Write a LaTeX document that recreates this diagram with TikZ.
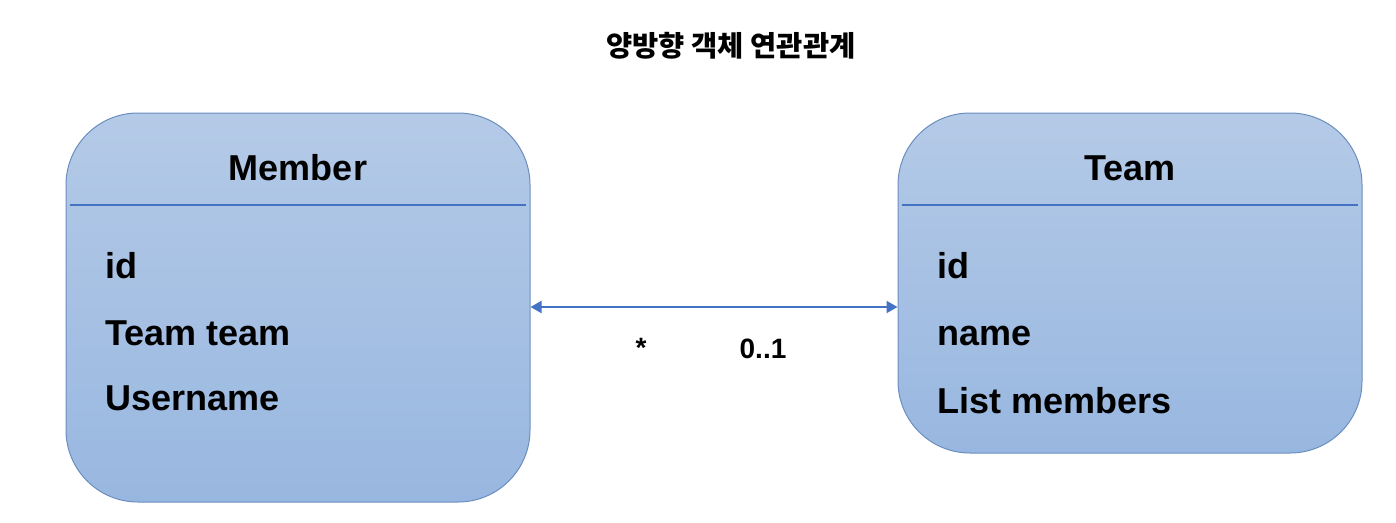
\documentclass[tikz,border=0pt]{standalone}
\usepackage{fontspec}
\setmainfont{Liberation Sans}
\newfontfamily\cjk{Noto Sans CJK KR}
\usepackage{tikz}
\usetikzlibrary{arrows.meta,positioning,calc}

\definecolor{boxtop}{HTML}{B4CAE7}
\definecolor{boxbot}{HTML}{98B7E0}
\definecolor{boxline}{HTML}{6C8EBF}
\definecolor{linkblue}{HTML}{4472C4}

\tikzset{
  classbox/.style={draw=boxline,line width=1pt,top color=boxtop,bottom color=boxbot,
    rounded corners=72pt,minimum width=464pt,inner sep=0pt},
  classname/.style={font=\fontsize{36}{40}\selectfont\bfseries,anchor=base},
  field/.style={font=\fontsize{36}{40}\selectfont\bfseries,anchor=base west,inner sep=0pt},
  sepline/.style={draw=linkblue,line width=2pt},
  mult/.style={font=\fontsize{28}{32}\selectfont\bfseries,anchor=base,inner sep=0pt}
}

\begin{document}
\begin{tikzpicture}[x=1pt,y=-1pt]
  \useasboundingbox (0,0) rectangle (1396,522);
  \node[font=\cjk\fontsize{28.5}{32}\selectfont\bfseries] (title) at (731,46) {양방향 객체 연관관계};

  % Member
  \node[classbox,minimum height=389pt] (member) at (298,307.5) {};
  \node[classname] (membername) at (298,180) {Member};
  \draw[sepline] ($(member.north west)+(4,92)$) -- ($(member.north east)+(-5,92)$);
  \node[field] (mid) at (105,278) {id};
  \node[field] (mteam) at (105,345) {Team team};
  \node[field] (muser) at (105,410) {Username};

  % Team
  \node[classbox,minimum height=340pt] (team) at (1130,283) {};
  \node[classname] (teamname) at (1130,180) {Team};
  \draw[sepline] ($(team.north west)+(4,92)$) -- ($(team.north east)+(-5,92)$);
  \node[field] (tid) at (937,278) {id};
  \node[field] (tname) at (937,345) {name};
  \node[field] (tlist) at (937,413) {List members};

  % association
  \coordinate (mright) at (member.east |- 0,307);
  \coordinate (tleft) at (team.west |- 0,307);
  \draw[linkblue,line width=2pt,{Triangle[length=11pt,width=12pt]}-{Triangle[length=11pt,width=12pt]}]
    (mright) -- (tleft);
  \node[mult] (many) at (641,357) {*};
  \node[mult] (one) at (763,358) {0..1};
\end{tikzpicture}
\end{document}
